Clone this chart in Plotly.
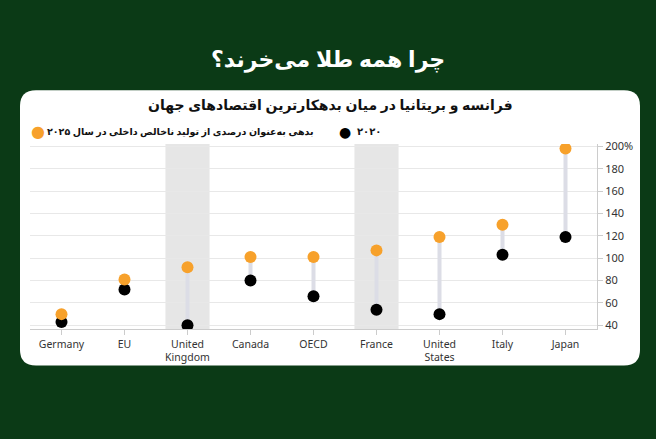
import plotly.graph_objects as go

categories = ["Germany", "EU", "United<br>Kingdom", "Canada", "OECD", "France", "United<br>States", "Italy", "Japan"]
debt_2025 = [50, 81, 92, 101, 101, 107, 119, 130, 198]
debt_2020 = [43, 72, 40, 80, 66, 54, 50, 103, 119]
highlight = ["United<br>Kingdom", "France"]
tick_vals = [40, 60, 80, 100, 120, 140, 160, 180, 200]
tick_text = ["40", "60", "80", "100", "120", "140", "160", "180", "200%"]

W, H = 656, 439
def px(x): return x / W
def py(y): return 1 - y / H

fig = go.Figure()
for i, c in enumerate(categories):
    fig.add_trace(go.Scatter(x=[c, c], y=[debt_2020[i], debt_2025[i]], mode="lines",
                             line=dict(color="#dcdde6", width=4), showlegend=False, hoverinfo="skip"))
fig.add_trace(go.Scatter(x=categories, y=debt_2020, mode="markers",
                         marker=dict(color="black", size=12), showlegend=False))
fig.add_trace(go.Scatter(x=categories, y=debt_2025, mode="markers",
                         marker=dict(color="#f7a12b", size=12), showlegend=False))

shapes = []
x0, x1, y0, y1, r = 20, 640, 86, 367, 16
path = (f"M {px(x0+r)},{py(y0)} L {px(x1-r)},{py(y0)} Q {px(x1)},{py(y0)} {px(x1)},{py(y0+r)} "
        f"L {px(x1)},{py(y1-r)} Q {px(x1)},{py(y1)} {px(x1-r)},{py(y1)} "
        f"L {px(x0+r)},{py(y1)} Q {px(x0)},{py(y1)} {px(x0)},{py(y1-r)} "
        f"L {px(x0)},{py(y0+r)} Q {px(x0)},{py(y0)} {px(x0+r)},{py(y0)} Z")
shapes.append(dict(type="path", path=path, xref="paper", yref="paper", fillcolor="white",
                   line=dict(width=0), layer="below"))
for h in highlight:
    idx = categories.index(h)
    shapes.append(dict(type="rect", xref="x", yref="paper", x0=idx - 0.35, x1=idx + 0.35,
                       y0=py(330), y1=py(141), fillcolor="#e6e6e6", line=dict(width=0), layer="below"))

fnt = "Noto Sans, DejaVu Sans, sans-serif"
ann = [
    dict(text="<b>چرا همه طلا می‌خرند؟</b>", x=px(328), y=py(53), font=dict(size=22, color="white")),
    dict(text="<b>فرانسه و بریتانیا در میان بدهکارترین اقتصادهای جهان</b>", x=px(330), y=py(101),
         font=dict(size=14, color="#111")),
    dict(text="<b>بدهی به‌عنوان درصدی از تولید ناخالص داخلی در سال ۲۰۲۵</b>", x=px(316), y=py(128),
         xanchor="right", font=dict(size=9.5, color="#111")),
    dict(text="<b>۲۰۲۰</b>", x=px(355), y=py(128), xanchor="left", font=dict(size=10, color="#111")),
    dict(text="●", x=px(38), y=py(128), font=dict(size=16, color="#f7a12b")),
    dict(text="●", x=px(345), y=py(128), font=dict(size=14, color="black")),
]
for a in ann:
    a.update(xref="paper", yref="paper", showarrow=False, yanchor="middle")
    if "xanchor" not in a:
        a["xanchor"] = "center"

fig.update_layout(
    width=W, height=H, margin=dict(l=0, r=0, t=0, b=0),
    paper_bgcolor="#0b3a16", plot_bgcolor="rgba(0,0,0,0)",
    font=dict(family=fnt), shapes=shapes, annotations=ann,
    xaxis=dict(domain=[px(30), px(597)], range=[-0.5, 8.5], type="category",
               showgrid=False, showline=True, linecolor="#cccccc", ticks="outside",
               tickcolor="#cccccc", ticklen=5, tickfont=dict(size=10.5, color="#333"), fixedrange=True),
    yaxis=dict(domain=[py(330), py(141)], range=[36.5, 202], side="right",
               tickvals=tick_vals, ticktext=tick_text, gridcolor="#e8e8e8",
               showline=True, linecolor="#cccccc", ticks="outside", tickcolor="#cccccc", ticklen=5,
               tickfont=dict(size=11, color="#333"), zeroline=False),
)
fig.write_html("out.html", config={"displayModeBar": False},
               post_script="document.body.style.margin='0';document.body.style.background='#0b3a16';")
